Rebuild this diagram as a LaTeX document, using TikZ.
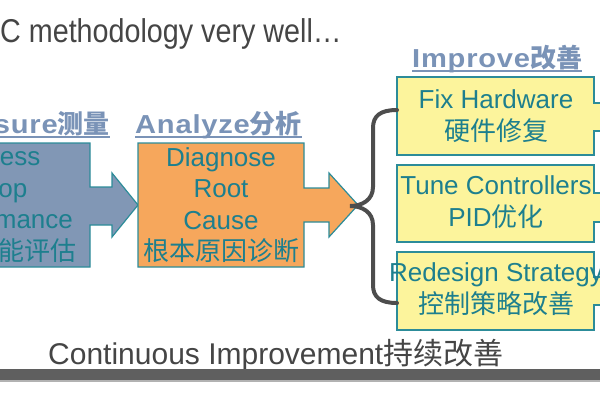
\documentclass[tikz,border=0pt]{standalone}
\usepackage{fontspec}
\setmainfont{Liberation Sans}
\newfontfamily\cjk{Noto Sans CJK SC}
\newfontfamily\titlefont[FakeStretch=0.87]{Liberation Sans}
\newfontfamily\labelfont[FakeStretch=1.12, LetterSpace=3]{Liberation Sans}
\newcommand{\zh}[1]{{\cjk #1}}

\definecolor{titlegray}{HTML}{454545}
\definecolor{labelblue}{HTML}{7A93B7}
\definecolor{measurefill}{HTML}{8197B5}
\definecolor{analyzefill}{HTML}{F6A75C}
\definecolor{improvefill}{HTML}{FCF49C}
\definecolor{tealline}{HTML}{2C8C99}
\definecolor{tealtext}{HTML}{1D7F8E}
\definecolor{bracegray}{HTML}{4D4D4D}
\definecolor{bargray}{HTML}{5F5F5F}

\tikzset{
  arrowshape/.style={draw=tealline, line width=1.2pt, line join=miter},
  bodytext/.style={align=center, inner sep=0pt, text=tealtext,
    font=\fontsize{26}{31.5}\selectfont},
  steplabel/.style={anchor=base west, inner sep=0pt, text=labelblue,
    font=\labelfont\bfseries\fontsize{26}{30}\selectfont},
  labelline/.style={labelblue, line width=1.5pt},
  bracepath/.style={draw=bracegray, line width=4pt, line cap=round}
}

\begin{document}
\begin{tikzpicture}[x=1pt, y=-1pt]
    \useasboundingbox (0,0) rectangle (600,400);
    % Heading
    \node[anchor=base west, inner sep=0pt, text=titlegray,
      font=\titlefont\fontsize{33}{40}\selectfont] (title) at (0,42)
      {C methodology very well…};
    % Measure and Analyze arrows
    \draw[arrowshape, fill=measurefill] (-80,143) -- (90,143) -- (90,187) -- (112,187)
      -- (112,173) -- (138,205) -- (112,237) -- (112,225) -- (90,225) -- (90,267)
      -- (-80,267) -- cycle;
    \draw[arrowshape, fill=analyzefill] (138,143) -- (304,143) -- (304,188) -- (329,188)
      -- (329,173) -- (358,205) -- (329,237) -- (329,222) -- (304,222) -- (304,267)
      -- (138,267) -- cycle;
    \node[bodytext] (measure) at (-1.5,205)
      {Assess\\Loop\\Performance\\\zh{回路性能评估}};
    \node[bodytext] (analyze) at (221,205)
      {Diagnose\\Root\\Cause\\\zh{根本原因诊断}};
    % Improve boxes
    \draw[arrowshape, fill=improvefill] (397,77) -- (594,77) -- (594,103) -- (620,103)
      -- (620,131) -- (594,131) -- (594,155) -- (397,155) -- cycle;
    \draw[arrowshape, fill=improvefill] (397,165) -- (594,165) -- (594,193) -- (620,193)
      -- (620,222) -- (594,222) -- (594,242) -- (397,242) -- cycle;
    \draw[arrowshape, fill=improvefill] (397,252) -- (594,252) -- (594,277) -- (620,277)
      -- (620,305) -- (594,305) -- (594,330) -- (397,330) -- cycle;
    \node[bodytext] (fixbox) at (496,116) {Fix Hardware\\\zh{硬件修复}};
    \node[bodytext] (tunebox) at (496,202) {Tune Controllers\\PID\zh{优化}};
    \node[bodytext] (redesignbox) at (496,289) {Redesign Strategy\\\zh{控制策略改善}};
    % Step labels
    \node[steplabel, anchor=base east] (measurelabel) at (110,133) {Measure\zh{测量}};
    \node[steplabel] (analyzelabel) at (135,133) {Analyze\zh{分析}};
    \node[steplabel] (improvelabel) at (412,67) {Improve\zh{改善}};
    \draw[labelline] ([yshift=-4pt]measurelabel.base west) -- ([yshift=-4pt]measurelabel.base east);
    \draw[labelline] ([yshift=-4pt]analyzelabel.base west) -- ([yshift=-4pt]analyzelabel.base east);
    \draw[labelline] ([yshift=-4pt]improvelabel.base west) -- ([yshift=-4pt]improvelabel.base east);
    % Brace
    \coordinate (bracetop) at (397,110);
    \coordinate (bracetip) at (350,206);
    \coordinate (bracebot) at (397,303);
    \draw[bracepath] (bracetop) .. controls +(-17,0) and +(0,-12) .. ++(-24,18) -- ++(0,59)
      .. controls +(0,13) and +(12,0) .. (bracetip)
      .. controls +(12,0) and +(0,-13) .. ++(23,19) -- ++(0,60)
      .. controls +(0,12) and +(-17,0) .. (bracebot);
    % Footer
    \node[anchor=base west, inner sep=0pt, text=titlegray,
      font=\fontsize{30}{36}\selectfont] (cilabel) at (48,364)
      {Continuous Improvement\zh{持续改善}};
    \fill[bargray] (-1,369) rectangle (601,380);
    \fill[black!30] (-1,380) rectangle (601,382);
\end{tikzpicture}
\end{document}
